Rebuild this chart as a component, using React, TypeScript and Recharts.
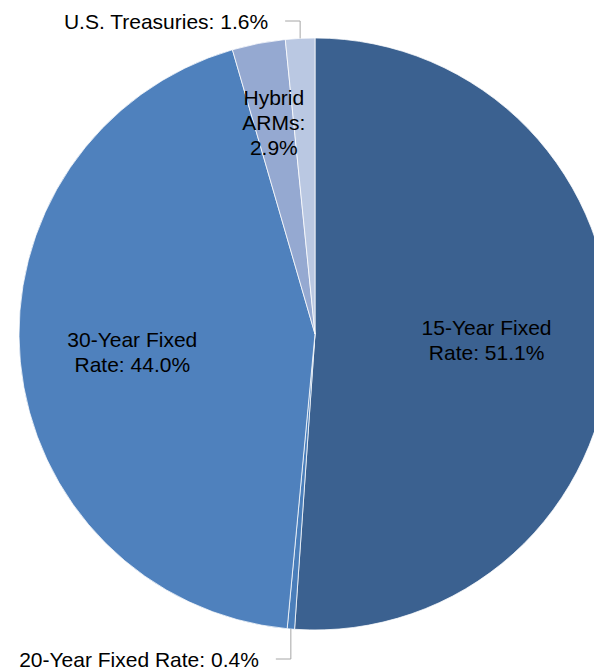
import React from 'react';
import { PieChart, Pie, Cell } from 'recharts';

const categories = [
    '15-Year Fixed Rate',
    '20-Year Fixed Rate',
    '30-Year Fixed Rate',
    'Hybrid ARMs',
    'U.S. Treasuries'
];
const shares = [51.1, 0.4, 44.0, 2.9, 1.6];
const colors = ['#3B6190', '#4A7EBA', '#4F81BD', '#95A9D1', '#BAC8E2'];

const data = categories.map((name, i) => ({ name, value: shares[i] }));

// how each label is placed: inside at a fraction of the radius, or outside with an elbow line
const labelLayout: Record<string, any> = {
    '15-Year Fixed Rate': { inside: 0.58, wrap: 13 },
    '30-Year Fixed Rate': { inside: 0.62, wrap: 13 },
    'Hybrid ARMs': { inside: 0.73, wrap: 6 },
    '20-Year Fixed Rate': { outside: 29 },
    'U.S. Treasuries': { outside: 17 }
};

const RAD = Math.PI / 180;
const FONT = 'Liberation Sans, Arial, sans-serif';
const FS = 21;

const wrapWords = (text: string, max: number) => {
    const lines: string[] = [];
    let cur = '';
    text.split(' ').forEach((w) => {
        if (cur && (cur + ' ' + w).length > max) {
            lines.push(cur);
            cur = w;
        } else {
            cur = cur ? cur + ' ' + w : w;
        }
    });
    if (cur) lines.push(cur);
    return lines;
};

const renderLabel = (props: any) => {
    const { cx, cy, midAngle, outerRadius, name, value } = props;
    const layout = labelLayout[name];
    const text = `${name}: ${value.toFixed(1)}%`;
    const cos = Math.cos(-midAngle * RAD);
    const sin = Math.sin(-midAngle * RAD);

    if (layout.inside) {
        const r = outerRadius * layout.inside;
        const x = cx + r * cos;
        const y = cy + r * sin;
        const lines = wrapWords(text, layout.wrap);
        const lh = 25;
        const y0 = y - ((lines.length - 1) * lh) / 2;
        return (
            <text x={x} y={y0} textAnchor="middle" dominantBaseline="central" fill="#000" fontSize={FS} fontFamily={FONT}>
                {lines.map((l, i) => (
                    <tspan key={i} x={x} y={y0 + i * lh}>{l}</tspan>
                ))}
            </text>
        );
    }

    const px = cx + outerRadius * cos;
    const py = cy + outerRadius * sin;
    const dir = sin < 0 ? -1 : 1;
    const ey = cy + dir * (outerRadius + layout.outside);
    const ex = px - 15;
    return (
        <g>
            <polyline points={`${px},${py} ${px},${ey} ${ex},${ey}`} fill="none" stroke="#A6A6A6" strokeWidth={1} />
            <text x={ex - 17} y={ey} textAnchor="end" dominantBaseline="central" fill="#000" fontSize={FS} fontFamily={FONT}>
                {text}
            </text>
        </g>
    );
};

export default function App() {
    return (
        <div style={{ position: 'absolute', left: 0, top: 0, width: 594, height: 669, overflow: 'hidden' }}>
            <PieChart width={594} height={669}>
                <Pie
                    data={data}
                    dataKey="value"
                    nameKey="name"
                    cx={310}
                    cy={329}
                    outerRadius={296}
                    startAngle={90}
                    endAngle={-270}
                    stroke="#FFFFFF"
                    strokeWidth={0.75}
                    label={renderLabel}
                    labelLine={false}
                    isAnimationActive={false}
                >
                    {data.map((d, i) => (
                        <Cell key={d.name} fill={colors[i]} />
                    ))}
                </Pie>
            </PieChart>
        </div>
    );
}
